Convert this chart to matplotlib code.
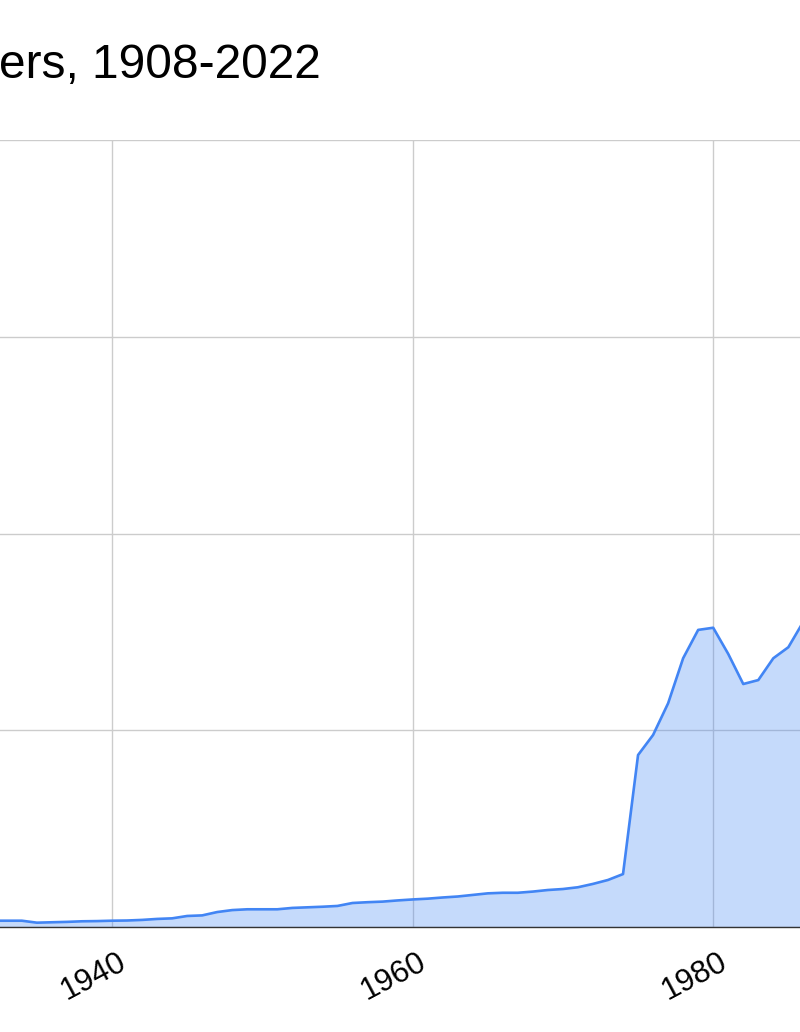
import matplotlib.pyplot as plt
import matplotlib.transforms as mtransforms

# values (grid step = 100)
years = list(range(1932, 1987))
values = [3.2, 3.2, 3.2, 2.2, 2.4, 2.6, 2.9, 3.0, 3.2, 3.3,
          3.6, 4.1, 4.4, 5.6, 5.9, 7.6, 8.6, 9.0, 9.0, 9.0,
          9.7, 10.0, 10.3, 10.7, 12.2, 12.6, 12.9, 13.5, 14.0, 14.4,
          15.0, 15.5, 16.3, 17.1, 17.4, 17.4, 18.0, 18.8, 19.3, 20.2,
          21.9, 23.9, 26.9, 87.4, 97.6, 113.7, 136.6, 151.0, 152.1, 138.8,
          123.5, 125.5, 136.6, 142.2, 155.2]
xticks = [1940, 1960, 1980]
yticks = [0, 100, 200, 300, 400]
title = "ers, 1908-2022"

W, H = 800, 1032
fig = plt.figure(figsize=(W / 100, H / 100), dpi=100)
plt.rcParams['font.family'] = ['Liberation Sans', 'DejaVu Sans']

px_per_year = 15.03
x0 = 1940 - 112 / px_per_year
x1 = x0 + W / px_per_year

ax = fig.add_axes([0, (H - 927) / H, 1, (927 - 140) / H])
ax.set_xlim(x0, x1)
ax.set_ylim(0, 400)

ax.fill_between(years, values, 0, color='#4285F4', alpha=0.3, linewidth=0, zorder=2)
ax.plot(years, values, color='#4285F4', linewidth=1.9, zorder=3)

ax.set_yticks(yticks)
ax.set_yticklabels([])
ax.set_xticks(xticks)
ax.set_xticklabels([str(t) for t in xticks], rotation=28, ha='right', va='center',
                   rotation_mode='anchor', fontsize=22.5)
ax.tick_params(length=0, axis='both')
ax.tick_params(axis='x', pad=24)
off = mtransforms.ScaledTranslation(12 / 100, 0, fig.dpi_scale_trans)
for lbl in ax.get_xticklabels():
    lbl.set_transform(lbl.get_transform() + off)

ax.grid(True, color='#cccccc', linewidth=1.0, zorder=0)
ax.set_axisbelow(True)
for s in ['left', 'right', 'top']:
    ax.spines[s].set_visible(False)
ax.spines['bottom'].set_color('#333333')
ax.spines['bottom'].set_linewidth(1.0)
ax.spines['bottom'].set_zorder(4)

fig.text(321 / W, 1 - 66 / H, title, fontsize=34.5, ha='right', va='center', color='black')

fig.savefig('out.png', dpi=100, facecolor='white')
